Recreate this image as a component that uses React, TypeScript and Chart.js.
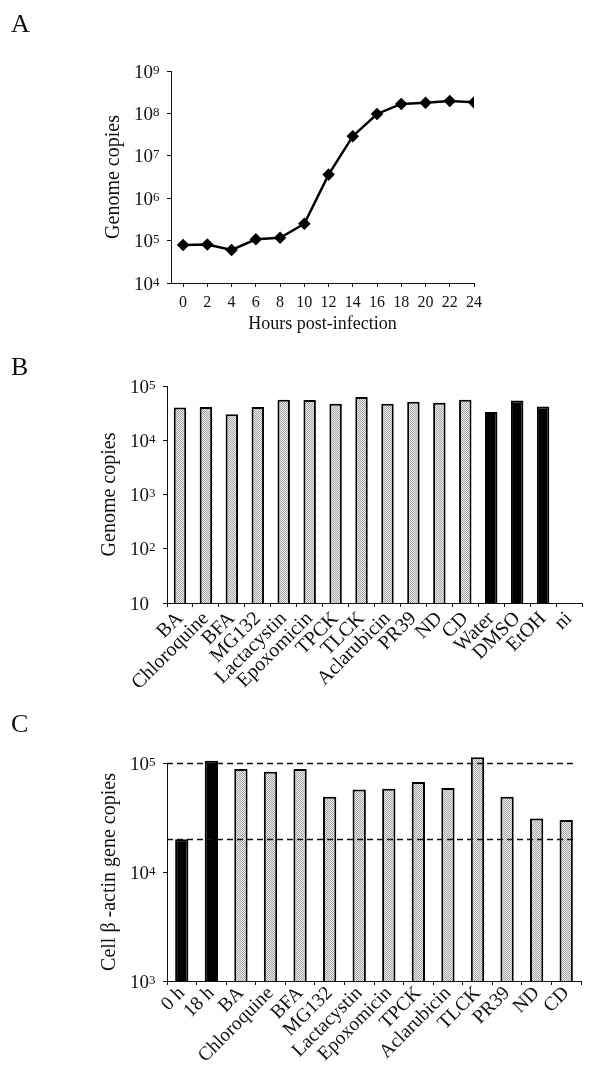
import React, { useEffect, useRef } from "react";
import { Chart, registerables } from "chart.js";

Chart.register(...registerables);

// ---------- Data ----------
const hoursA = [0, 2, 4, 6, 8, 10, 12, 14, 16, 18, 20, 22, 24];
const copiesA = [7.9e4, 8.1e4, 6.0e4, 1.07e5, 1.17e5, 2.5e5, 3.6e6, 2.9e7, 9.7e7, 1.67e8, 1.78e8, 1.96e8, 1.82e8];
const decadesA = [1e4, 1e5, 1e6, 1e7, 1e8, 1e9];

const drugsB = ["BA", "Chloroquine", "BFA", "MG132", "Lactacystin", "Epoxomicin", "TPCK", "TLCK", "Aclarubicin", "PR39", "ND", "CD", "Water", "DMSO", "EtOH", "ni"];
const copiesB = [4.0e4, 4.1e4, 3.0e4, 4.1e4, 5.6e4, 5.5e4, 4.7e4, 6.3e4, 4.7e4, 5.1e4, 4.9e4, 5.6e4, 3.3e4, 5.4e4, 4.2e4, null];
const controlsB = ["Water", "DMSO", "EtOH"];
const decadesB = [10, 1e2, 1e3, 1e4, 1e5];

const samplesC = ["0 h", "18 h", "BA", "Chloroquine", "BFA", "MG132", "Lactacystin", "Epoxomicin", "TPCK", "Aclarubicin", "TLCK", "PR39", "ND", "CD"];
const actinC = [2.0e4, 1.05e5, 8.8e4, 8.3e4, 8.8e4, 4.9e4, 5.7e4, 5.8e4, 6.7e4, 5.9e4, 1.13e5, 4.9e4, 3.1e4, 3.0e4];
const controlsC = ["0 h", "18 h"];
const decadesC = [1e3, 1e4, 1e5];
const referenceLinesC = [1e5, 2e4];

const FONT = "'Liberation Serif', 'Times New Roman', serif";
const INK = "#111";

function makeStipple(): CanvasPattern | string {
  const c = document.createElement("canvas");
  c.width = 2;
  c.height = 2;
  const g = c.getContext("2d");
  if (!g) return "#cccccc";
  g.fillStyle = "#eeeeee";
  g.fillRect(0, 0, 2, 2);
  g.fillStyle = "#a4a4a4";
  g.fillRect(0, 0, 1, 1);
  g.fillRect(1, 1, 1, 1);
  const p = g.createPattern(c, "repeat");
  return p || "#cccccc";
}

const decorPlugin = {
  id: "decor",
  afterDatasetsDraw(chart: any, _args: any, opts: any) {
    const { ctx, chartArea, scales } = chart;
    const y = scales.y;
    const x = scales.x;
    ctx.save();
    if (opts.refLines && opts.refLines.length) {
      const endX = x.getPixelForValue(opts.lastIndex) + 0.25 * (x.width / (opts.lastIndex + 1));
      ctx.strokeStyle = INK;
      ctx.lineWidth = 1.3;
      ctx.setLineDash([6, 4]);
      for (const v of opts.refLines) {
        const py = Math.round(y.getPixelForValue(v)) + 0.5;
        ctx.beginPath();
        ctx.moveTo(chartArea.left, py);
        ctx.lineTo(endX, py);
        ctx.stroke();
      }
      ctx.setLineDash([]);
    }
    ctx.restore();
  },
  afterDraw(chart: any, _args: any, opts: any) {
    const { ctx, chartArea, scales } = chart;
    const y = scales.y;
    ctx.save();
    ctx.fillStyle = INK;
    ctx.font = `26px ${FONT}`;
    ctx.textAlign = "left";
    ctx.textBaseline = "alphabetic";
    ctx.fillText(opts.letter, 11, opts.letterBaseline);
    for (const v of opts.decades) {
      const py = y.getPixelForValue(v);
      const exp = Math.round(Math.log10(v));
      const x0 = chartArea.left - 37;
      ctx.font = `19px ${FONT}`;
      ctx.fillText("10", x0, py + 6.5);
      const w = ctx.measureText("10").width;
      if (exp !== 1) {
        ctx.font = `13px ${FONT}`;
        ctx.fillText(String(exp), x0 + w, py + 2.5);
      }
    }
    ctx.save();
    ctx.translate(chartArea.left - 57, (chartArea.top + chartArea.bottom) / 2);
    ctx.rotate(-Math.PI / 2);
    ctx.font = `20px ${FONT}`;
    ctx.textAlign = "center";
    ctx.textBaseline = "middle";
    ctx.fillText(opts.yTitle, 0, 0);
    ctx.restore();
    if (opts.xTitle) {
      ctx.font = `18px ${FONT}`;
      ctx.textAlign = "center";
      ctx.textBaseline = "middle";
      ctx.fillText(opts.xTitle, (chartArea.left + chartArea.right) / 2, chartArea.bottom + 41);
    }
    ctx.restore();
  },
};

function tickGrid() {
  return {
    display: true,
    drawOnChartArea: false,
    drawTicks: true,
    tickLength: 4,
    color: INK,
    lineWidth: 1,
  };
}

function buildA(): any {
  return {
    type: "line",
    data: {
      datasets: [
        {
          data: hoursA.map((h, i) => ({ x: h, y: copiesA[i] })),
          borderColor: "#000",
          borderWidth: 2.5,
          pointStyle: "rectRot",
          pointRadius: 4.5,
          pointBackgroundColor: "#000",
          pointBorderColor: "#000",
          tension: 0,
        },
      ],
    },
    options: {
      responsive: false,
      animation: false,
      layout: { padding: { left: 0, top: 71, right: 127, bottom: 0 } },
      plugins: {
        legend: { display: false },
        tooltip: { enabled: false },
        decor: { letter: "A", letterBaseline: 32, decades: decadesA, yTitle: "Genome copies", xTitle: "Hours post-infection" },
      },
      scales: {
        x: {
          type: "linear",
          min: -1,
          max: 24,
          afterBuildTicks: (s: any) => {
            s.ticks = hoursA.map((v) => ({ value: v }));
          },
          ticks: { color: INK, font: { family: FONT, size: 16 }, padding: 6, autoSkip: false },
          grid: tickGrid(),
          border: { display: true, color: INK, width: 1 },
          afterFit: (s: any) => {
            s.height = 57;
          },
        },
        y: {
          type: "logarithmic",
          min: 1e4,
          max: 1e9,
          afterBuildTicks: (s: any) => {
            s.ticks = decadesA.map((v) => ({ value: v }));
          },
          ticks: { display: false },
          grid: tickGrid(),
          border: { display: true, color: INK, width: 1 },
          afterFit: (s: any) => {
            s.width = 171;
          },
        },
      },
    },
    plugins: [decorPlugin],
  };
}

function buildBar(
  labels: string[],
  values: (number | null)[],
  controls: string[],
  decades: number[],
  opts: { letter: string; letterBaseline: number; yTitle: string; top: number; bottom: number; right: number; left: number; min: number; max: number; fontSize: number; labelPad: number; barPct: number; refLines?: number[] }
): any {
  const stipple = makeStipple();
  return {
    type: "bar",
    data: {
      labels,
      datasets: [
        {
          data: values,
          backgroundColor: labels.map((l) => (controls.includes(l) ? "#000" : stipple)),
          borderColor: "#000",
          borderWidth: 2,
          barPercentage: opts.barPct,
          categoryPercentage: 1,
          clip: false,
        },
      ],
    },
    options: {
      responsive: false,
      animation: false,
      layout: { padding: { left: 0, top: opts.top, right: opts.right, bottom: 0 } },
      plugins: {
        legend: { display: false },
        tooltip: { enabled: false },
        decor: {
          letter: opts.letter,
          letterBaseline: opts.letterBaseline,
          decades,
          yTitle: opts.yTitle,
          refLines: opts.refLines || [],
          lastIndex: labels.length - 1,
        },
      },
      scales: {
        x: {
          type: "category",
          ticks: {
            color: INK,
            font: { family: FONT, size: opts.fontSize },
            autoSkip: false,
            minRotation: 45,
            maxRotation: 45,
            padding: opts.labelPad,
          },
          grid: { ...tickGrid(), offset: true },
          border: { display: true, color: INK, width: 1 },
          afterFit: (s: any) => {
            s.height = opts.bottom;
          },
        },
        y: {
          type: "logarithmic",
          min: opts.min,
          max: opts.max,
          afterBuildTicks: (s: any) => {
            s.ticks = decades.map((v) => ({ value: v }));
          },
          ticks: { display: false },
          grid: tickGrid(),
          border: { display: true, color: INK, width: 1 },
          afterFit: (s: any) => {
            s.width = opts.left;
          },
        },
      },
    },
    plugins: [decorPlugin],
  };
}

function Panel({ top, height, build }: { top: number; height: number; build: () => any }) {
  const ref = useRef<HTMLCanvasElement | null>(null);
  useEffect(() => {
    if (!ref.current) return;
    const chart = new Chart(ref.current, build());
    return () => chart.destroy();
  }, []);
  return (
    <canvas
      ref={ref}
      width={601}
      height={height}
      style={{ position: "absolute", left: 0, top, width: 601, height }}
    />
  );
}

export default function App() {
  return (
    <div style={{ position: "absolute", left: 0, top: 0, width: 601, height: 1078, background: "#fff", overflow: "hidden" }}>
      <Panel top={0} height={340} build={buildA} />
      <Panel
        top={330}
        height={375}
        build={() =>
          buildBar(drugsB, copiesB, controlsB, decadesB, {
            letter: "B",
            letterBaseline: 45,
            yTitle: "Genome copies",
            top: 56,
            bottom: 102,
            right: 19,
            left: 167,
            min: 10,
            max: 1e5,
            fontSize: 20,
            labelPad: 0,
            barPct: 0.48,
          })
        }
      />
      <Panel
        top={700}
        height={378}
        build={() =>
          buildBar(samplesC, actinC, controlsC, decadesC, {
            letter: "C",
            letterBaseline: 32,
            yTitle: "Cell \u03b2 -actin gene copies",
            top: 63,
            bottom: 97,
            right: 20,
            left: 167,
            min: 1e3,
            max: 1e5,
            fontSize: 19.5,
            labelPad: -3,
            barPct: 0.45,
            refLines: referenceLinesC,
          })
        }
      />
    </div>
  );
}
